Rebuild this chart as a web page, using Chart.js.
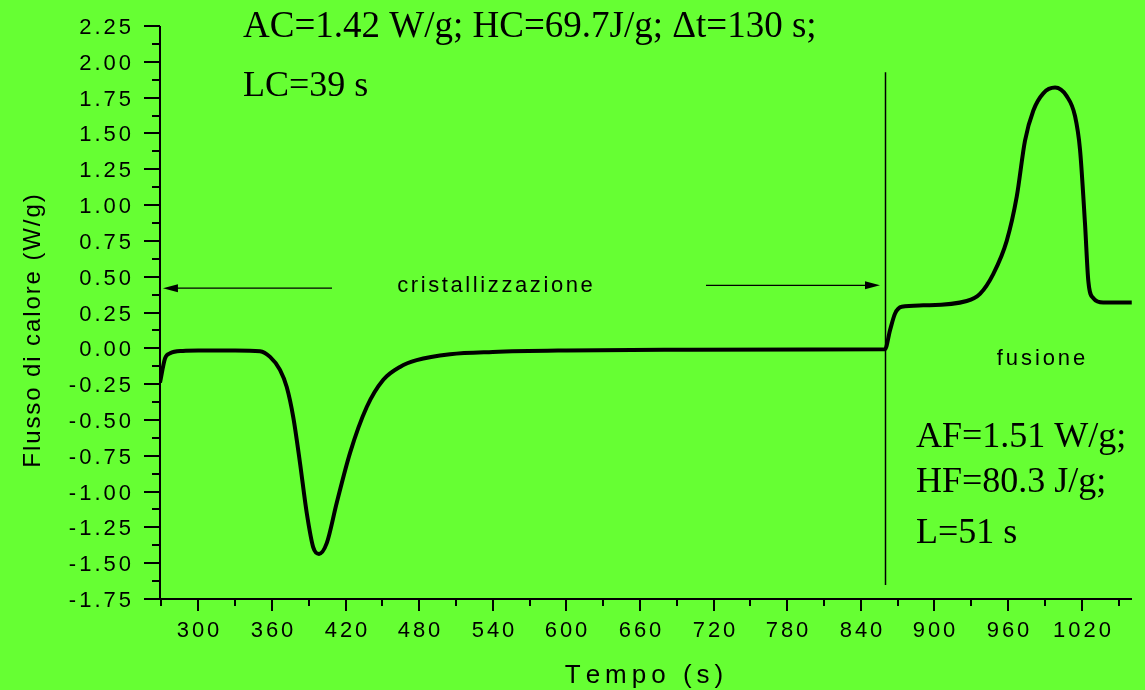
<!DOCTYPE html>
<html>
<head>
<meta charset="utf-8">
<script src="https://cdn.jsdelivr.net/npm/chart.js@4.4.1/dist/chart.umd.min.js"></script>
<style>
  html, body { margin: 0; padding: 0; background: #66ff33; }
  canvas { display: block; }
</style>
</head>
<body>
<canvas id="dscChart" width="1145" height="690"></canvas>
<script>
// curva DSC: flusso di calore (W/g) in funzione del tempo (s)
const tempo = [268.8, 272.9, 277.0, 287.5, 300, 330, 350.3, 358.5, 366.6, 372.1,
    377.4, 382.9, 388.4, 393.7, 398.4, 404.7, 412.8, 423.7, 437.3, 450.8,
    464.4, 478.0, 505.2, 540, 600, 700, 800, 859.7, 863.8, 867.9,
    873.3, 890.9, 926.3, 937.1, 948.0, 958.9, 967.1, 973.8, 980.6, 988.7,
    998.3, 1007.8, 1014.6, 1018.6, 1022.7, 1025.4, 1029.5, 1037.6, 1060.8];
const flusso = [-0.24, -0.07, -0.035, -0.018, -0.015, -0.015, -0.02, -0.06, -0.15, -0.27,
    -0.48, -0.80, -1.15, -1.39, -1.435, -1.36, -1.08, -0.73, -0.41, -0.22,
    -0.13, -0.083, -0.041, -0.025, -0.015, -0.01, -0.008, -0.006, 0.127, 0.243,
    0.29, 0.30, 0.33, 0.38, 0.52, 0.75, 1.06, 1.45, 1.66, 1.78,
    1.82, 1.76, 1.62, 1.39, 0.87, 0.47, 0.35, 0.32, 0.32];

// assi
const xMin = 268.8, xMax = 1061;
const yMin = -1.75, yMax = 2.25;
const xStep = 30, xLabelStep = 60;
const yStep = 0.125, yLabelStep = 0.25;

// testi
const titoloX = 'Tempo (s)';
const titoloY = 'Flusso di calore (W/g)';
const testoCristallizzazione = ['AC=1.42 W/g; HC=69.7J/g; \u0394t=130 s;', 'LC=39 s'];
const testoFusione = ['AF=1.51 W/g;', 'HF=80.3 J/g;', 'L=51 s'];
const etichettaCrist = 'cristallizzazione';
const etichettaFus = 'fusione';

// linea verticale di separazione e frecce (in coordinate dati)
const tempoSeparazione = 859.7;
const separazioneY = [1.927, -1.653];
const frecciaSx = { da: 409.0, a: 271.2, y: 0.42 };
const frecciaDx = { da: 713.8, a: 855.6, y: 0.44 };

const SANS = "'Liberation Sans', Arial, sans-serif";
const SERIF = "'Liberation Serif', 'Times New Roman', serif";

function testoSpaziato(ctx, str, x, y, sp, align) {
    const chars = [...str];
    const widths = chars.map(c => ctx.measureText(c).width);
    const total = widths.reduce((a, b) => a + b, 0) + sp * (chars.length - 1);
    let cx = align === 'center' ? x - total / 2 : align === 'right' ? x - total : x;
    ctx.textAlign = 'left';
    chars.forEach((c, i) => { ctx.fillText(c, cx, y); cx += widths[i] + sp; });
}

function isMultiplo(v, step) {
    return Math.abs(v / step - Math.round(v / step)) < 1e-6;
}

function freccia(ctx, x1, x2, y) {
    const dir = Math.sign(x2 - x1);
    ctx.beginPath();
    ctx.moveTo(x1, y);
    ctx.lineTo(x2 - dir * 10, y);
    ctx.stroke();
    ctx.beginPath();
    ctx.moveTo(x2, y);
    ctx.lineTo(x2 - dir * 15, y - 4);
    ctx.lineTo(x2 - dir * 15, y + 4);
    ctx.closePath();
    ctx.fill();
}

const decorazioni = {
    id: 'decorazioni',
    afterDraw(chart) {
        const ctx = chart.ctx;
        const xs = chart.scales.x, ys = chart.scales.y;
        const area = chart.chartArea;
        ctx.save();
        ctx.strokeStyle = '#000';
        ctx.fillStyle = '#000';
        ctx.textBaseline = 'alphabetic';

        // assi
        ctx.lineWidth = 2;
        ctx.beginPath();
        ctx.moveTo(area.left, ys.getPixelForValue(yMax));
        ctx.lineTo(area.left, area.bottom);
        ctx.lineTo(area.right, area.bottom);
        ctx.stroke();

        // tacche e etichette asse y
        ctx.font = '22px ' + SANS;
        for (let i = 0; yMin + i * yStep <= yMax + 1e-9; i++) {
            const v = yMin + i * yStep;
            const py = Math.round(ys.getPixelForValue(v));
            const major = isMultiplo(v, yLabelStep);
            ctx.beginPath();
            ctx.moveTo(area.left, py);
            ctx.lineTo(area.left - (major ? 16 : 8), py);
            ctx.stroke();
            if (major) testoSpaziato(ctx, v.toFixed(2), 131, py + 8, 3, 'right');
        }

        // tacche e etichette asse x
        for (let v = Math.ceil(xMin / xStep) * xStep; v <= xMax; v += xStep) {
            const px = Math.round(xs.getPixelForValue(v));
            const major = isMultiplo(v, xLabelStep);
            ctx.beginPath();
            ctx.moveTo(px, area.bottom);
            ctx.lineTo(px, area.bottom + (major ? 12 : 7));
            ctx.stroke();
            if (major) testoSpaziato(ctx, String(v), px, 637, 3, 'center');
        }

        // titoli degli assi
        ctx.font = '26px ' + SANS;
        testoSpaziato(ctx, titoloX, 644, 683, 5, 'center');
        ctx.save();
        ctx.translate(40, 331);
        ctx.rotate(-Math.PI / 2);
        ctx.font = '24px ' + SANS;
        testoSpaziato(ctx, titoloY, 0, 0, 1.9, 'center');
        ctx.restore();

        // separazione cristallizzazione / fusione
        ctx.lineWidth = 1.5;
        const sx = Math.round(xs.getPixelForValue(tempoSeparazione)) + 0.5;
        ctx.beginPath();
        ctx.moveTo(sx, ys.getPixelForValue(separazioneY[0]));
        ctx.lineTo(sx, ys.getPixelForValue(separazioneY[1]));
        ctx.stroke();

        ctx.lineWidth = 1.2;
        freccia(ctx, xs.getPixelForValue(frecciaSx.da), xs.getPixelForValue(frecciaSx.a), ys.getPixelForValue(frecciaSx.y));
        freccia(ctx, xs.getPixelForValue(frecciaDx.da), xs.getPixelForValue(frecciaDx.a), ys.getPixelForValue(frecciaDx.y));

        ctx.font = '22px ' + SANS;
        testoSpaziato(ctx, etichettaCrist, 495, 292, 2.6, 'center');
        testoSpaziato(ctx, etichettaFus, 1041, 365, 2.9, 'center');

        // parametri
        ctx.textAlign = 'left';
        ctx.font = '37px ' + SERIF;
        ctx.fillText(testoCristallizzazione[0], 243, 37);
        ctx.font = '36px ' + SERIF;
        ctx.fillText(testoCristallizzazione[1], 243, 96);
        testoFusione.forEach((t, i) => ctx.fillText(t, 916, [447, 492, 543][i]));

        ctx.restore();
    }
};

new Chart(document.getElementById('dscChart'), {
    type: 'line',
    data: {
        datasets: [{
            data: tempo.map((t, i) => ({ x: t, y: flusso[i] })),
            borderColor: '#000',
            borderWidth: 4,
            pointRadius: 0,
            cubicInterpolationMode: 'monotone',
            fill: false
        }]
    },
    options: {
        responsive: false,
        animation: false,
        devicePixelRatio: 1,
        layout: { padding: { top: 26, right: 13, left: 0, bottom: 0 } },
        plugins: { legend: { display: false }, tooltip: { enabled: false } },
        scales: {
            x: {
                type: 'linear',
                min: xMin, max: xMax,
                grid: { display: false },
                border: { display: false },
                ticks: { display: false, stepSize: xStep },
                afterFit: s => { s.height = 91; }
            },
            y: {
                type: 'linear',
                min: yMin, max: yMax,
                grid: { display: false },
                border: { display: false },
                ticks: { display: false, stepSize: yStep },
                afterFit: s => { s.width = 160; }
            }
        }
    },
    plugins: [decorazioni]
});
</script>
</body>
</html>
